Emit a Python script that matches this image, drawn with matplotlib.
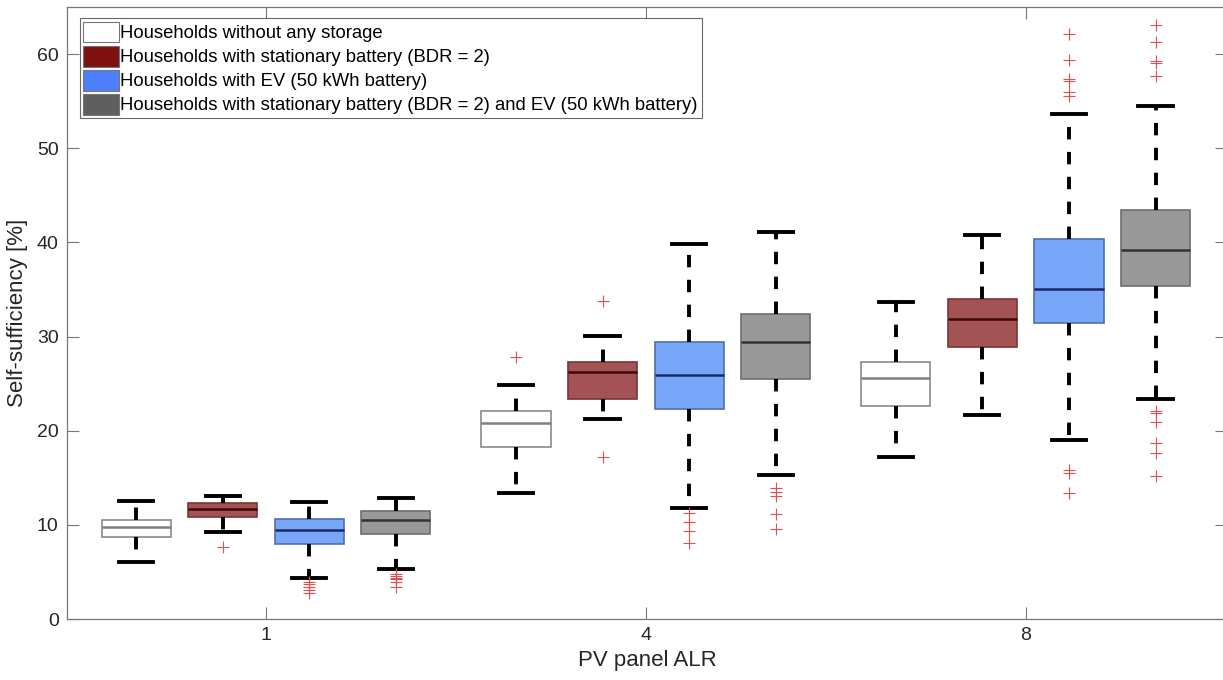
import matplotlib
matplotlib.use('Agg')
import matplotlib.pyplot as plt
from matplotlib.patches import Patch

plt.rcParams['font.family'] = ['Liberation Sans', 'DejaVu Sans']

# PV panel ALR groups and household categories
alr_labels = ['1', '4', '8']
categories = ['Households without any storage',
              'Households with stationary battery (BDR = 2)',
              'Households with EV (50 kWh battery)',
              'Households with stationary battery (BDR = 2) and EV (50 kWh battery)']

# box statistics, per category -> per ALR group
whislo = [[6.1, 13.4, 17.2],
          [9.2, 21.2, 21.7],
          [4.4, 11.8, 19.0],
          [5.3, 15.3, 23.4]]
q1 = [[8.7, 18.3, 22.6],
      [10.8, 23.4, 28.9],
      [8.0, 22.3, 31.4],
      [9.0, 25.5, 35.4]]
med = [[9.8, 20.8, 25.6],
       [11.7, 26.2, 31.9],
       [9.5, 25.9, 35.0],
       [10.5, 29.4, 39.2]]
q3 = [[10.5, 22.1, 27.3],
      [12.3, 27.3, 34.0],
      [10.6, 29.4, 40.4],
      [11.5, 32.4, 43.4]]
whishi = [[12.5, 24.8, 33.7],
          [13.1, 30.1, 40.8],
          [12.4, 39.8, 53.6],
          [12.8, 41.1, 54.5]]
fliers = [[[], [27.8], []],
          [[7.6], [33.8, 17.2], []],
          [[3.9, 3.7, 3.4, 3.1, 2.8], [11.3, 10.3, 9.3, 8.1],
           [62.1, 59.4, 57.4, 57.1, 56.0, 55.6, 15.8, 15.5, 13.4]],
          [[4.8, 4.6, 4.4, 4.2, 3.9, 3.4], [13.9, 13.5, 13.1, 11.1, 9.6],
           [63.1, 61.3, 59.3, 59.0, 57.7, 22.1, 21.9, 20.9, 18.7, 17.6, 15.2]]]

box_fill = ['#ffffff', '#a35353', '#78a6f8', '#999999']
box_edge = ['#8a8a8a', '#7a3535', '#5070a8', '#6e6e6e']
med_col = ['#808080', '#3a0a0a', '#1a2a6a', '#333333']
legend_col = ['#ffffff', '#7f1010', '#4d7fff', '#5f5f5f']

fig = plt.figure(figsize=(12.23, 6.8), dpi=100)
ax = fig.add_axes([67 / 1223, 61 / 680, 1160 / 1223, 612 / 680])

spacing = 0.228
for i in range(len(categories)):
    stats = []
    positions = []
    for g in range(len(alr_labels)):
        stats.append(dict(med=med[i][g], q1=q1[i][g], q3=q3[i][g],
                          whislo=whislo[i][g], whishi=whishi[i][g],
                          fliers=fliers[i][g]))
        positions.append(g + 1 + (i - 1.5) * spacing)
    ax.bxp(stats, positions=positions, widths=0.182, patch_artist=True,
           showfliers=True, capwidths=0.09,
           boxprops=dict(facecolor=box_fill[i], edgecolor=box_edge[i], linewidth=1.2),
           medianprops=dict(color=med_col[i], linewidth=1.8),
           whiskerprops=dict(color='black', linewidth=2.8, linestyle=(0, (3.2, 3.2))),
           capprops=dict(color='black', linewidth=2.8),
           flierprops=dict(marker='+', markeredgecolor='#e05050', markersize=8,
                           markeredgewidth=0.8, linestyle='none'))

ax.set_xlim(0.476, 3.53)
ax.set_ylim(0, 65)
ax.set_xticks([1, 2, 3])
ax.set_xticklabels(alr_labels)
ax.set_yticks(range(0, 61, 10))
ax.tick_params(direction='in', length=8.5, width=0.8, color='#777777',
               labelsize=14, labelcolor='#262626', top=True, right=True, pad=6)
for s in ax.spines.values():
    s.set_color('#777777')
    s.set_linewidth(0.9)

ax.set_xlabel('PV panel ALR', fontsize=16, color='#262626', labelpad=4)
ax.set_ylabel('Self-sufficiency [%]', fontsize=16, color='#262626', labelpad=6)

handles = [Patch(facecolor=legend_col[i], edgecolor='#777777', linewidth=0.8)
           for i in range(len(categories))]
leg = ax.legend(handles, categories, loc='upper left', fontsize=13.3,
                bbox_to_anchor=(0.011, 0.982), borderaxespad=0,
                frameon=True, fancybox=False, handlelength=1.9, handleheight=1.35,
                handletextpad=0.1, labelspacing=0.18, borderpad=0.2)
leg.get_frame().set_edgecolor('#444444')
leg.get_frame().set_linewidth(0.8)

fig.savefig('out.png', dpi=100)
